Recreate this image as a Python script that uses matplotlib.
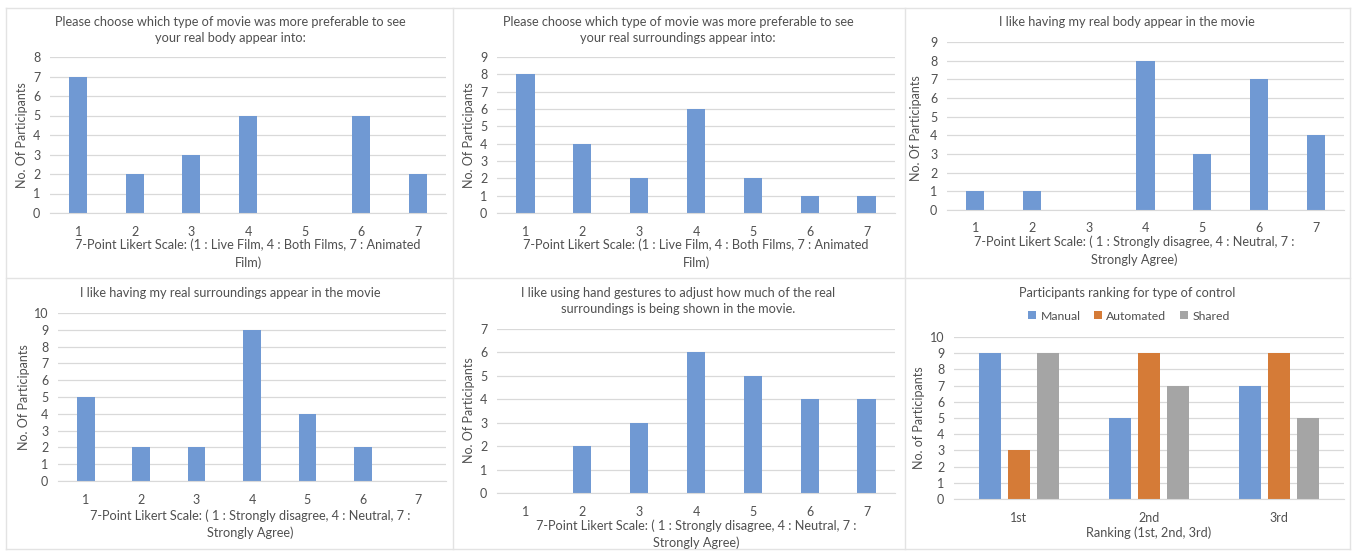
import matplotlib
matplotlib.use("Agg")
import matplotlib.pyplot as plt
import numpy as np

plt.rcParams['font.family'] = ['Lato', 'DejaVu Sans']

# data
likert = [1, 2, 3, 4, 5, 6, 7]
body_pref = [7, 2, 3, 5, 0, 5, 2]
surr_pref = [8, 4, 2, 6, 2, 1, 1]
body_like = [1, 1, 0, 8, 3, 7, 4]
surr_like = [5, 2, 2, 9, 4, 2, 0]
gesture_like = [0, 2, 3, 6, 5, 4, 4]

ranks = ['1st', '2nd', '3rd']
manual = [9, 5, 7]
automated = [3, 9, 9]
shared = [9, 7, 5]

BLUE = '#7099d3'
ORANGE = '#d57b37'
GREY = '#a5a5a5'
TXT = '#505050'
GRID = '#d9d9d9'

W, H = 1357, 552
fig = plt.figure(figsize=(W / 100, H / 100), dpi=100)


def px_ax(left, right, top, bottom):
    return fig.add_axes([left / W, 1 - bottom / H, (right - left) / W, (bottom - top) / H])


def ftext(x, y, s, size=9.2, rot=0):
    fig.text(x / W, 1 - y / H, s, ha='center', va='center', fontsize=size,
             color=TXT, rotation=rot)


def style(ax, ymax):
    ax.set_ylim(0, ymax)
    ax.set_yticks(range(0, ymax + 1))
    ax.grid(axis='y', color=GRID, lw=0.9)
    ax.set_axisbelow(True)
    for s in ['top', 'right', 'left']:
        ax.spines[s].set_visible(False)
    ax.spines['bottom'].set_color(GRID)
    ax.tick_params(length=0, labelsize=9, labelcolor=TXT)
    ax.tick_params(axis='x', pad=9)
    ax.tick_params(axis='y', pad=7)


def likert_panel(box, vals, ymax):
    ax = px_ax(*box)
    ax.bar(likert, vals, width=0.32, color=BLUE, zorder=2)
    ax.set_xlim(0.5, 7.5)
    ax.set_xticks(likert)
    style(ax, ymax)
    return ax


likert_panel((50, 446, 57, 213), body_pref, 8)
likert_panel((497, 895, 57, 213), surr_pref, 9)
likert_panel((947, 1344, 42, 210), body_like, 9)
likert_panel((58, 446, 313, 481), surr_like, 10)
likert_panel((497, 895, 329, 493), gesture_like, 7)

ax6 = px_ax(954, 1344, 337, 499)
x = np.arange(len(ranks))
ax6.bar(x - 0.223, manual, width=0.17, color=BLUE, label='Manual', zorder=2)
ax6.bar(x, automated, width=0.17, color=ORANGE, label='Automated', zorder=2)
ax6.bar(x + 0.223, shared, width=0.17, color=GREY, label='Shared', zorder=2)
ax6.set_xlim(-0.5, 2.5)
ax6.set_xticks(x)
ax6.set_xticklabels(ranks)
style(ax6, 10)
fig.legend(loc='center', bbox_to_anchor=(1129 / W, 1 - 316 / H), ncol=3, frameon=False,
           fontsize=8.8, labelcolor=TXT, handlelength=0.65, handleheight=0.65,
           handletextpad=0.35, columnspacing=1.1)

# titles
ftext(230, 22, 'Please choose which type of movie was more preferable to see')
ftext(230, 38, 'your real body appear into:')
ftext(678, 22, 'Please choose which type of movie was more preferable to see')
ftext(678, 38, 'your real surroundings appear into:')
ftext(1127, 22, 'I like having my real body appear in the movie')
ftext(230, 293, 'I like having my real surroundings appear in the movie')
ftext(678, 293, 'I like using hand gestures to adjust how much of the real')
ftext(678, 309, 'surroundings is being shown in the movie.')
ftext(1127, 293, 'Participants ranking for type of control')

# axis labels
ftext(248, 245, '7-Point Likert Scale: (1 : Live Film, 4 : Both Films, 7 : Animated')
ftext(248, 263, 'Film)')
ftext(696, 245, '7-Point Likert Scale: (1 : Live Film, 4 : Both Films, 7 : Animated')
ftext(696, 263, 'Film)')
ftext(1134, 242, '7-Point Likert Scale: ( 1 : Strongly disagree, 4 : Neutral, 7 :')
ftext(1134, 260, 'Strongly Agree)')
ftext(250, 516, '7-Point Likert Scale: ( 1 : Strongly disagree, 4 : Neutral, 7 :')
ftext(250, 533, 'Strongly Agree)')
ftext(696, 526, '7-Point Likert Scale: ( 1 : Strongly disagree, 4 : Neutral, 7 :')
ftext(696, 543, 'Strongly Agree)')
ftext(1149, 533, 'Ranking (1st, 2nd, 3rd)')

ftext(22, 135, 'No. Of Participants', 9, 90)
ftext(469, 135, 'No. Of Participants', 9, 90)
ftext(916, 128, 'No. Of Participants', 9, 90)
ftext(24, 397, 'No. Of Participants', 9, 90)
ftext(469, 410, 'No. Of Participants', 9, 90)
ftext(919, 418, 'No. of Participants', 9, 90)

# panel borders
for xp in [6, 453, 905, 1350]:
    fig.add_artist(plt.Line2D([xp / W] * 2, [1 - 549 / H, 1 - 8 / H], color='#e3e3e3', lw=1))
for yp in [8, 278, 549]:
    fig.add_artist(plt.Line2D([6 / W, 1350 / W], [1 - yp / H] * 2, color='#e3e3e3', lw=1))

fig.savefig('out.png', dpi=100)
